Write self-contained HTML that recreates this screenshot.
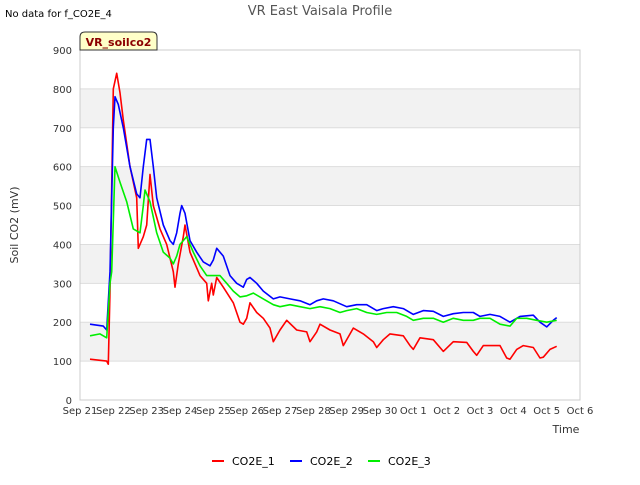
<!DOCTYPE html>
<html><head><meta charset="utf-8"><style>
body{margin:0;background:#fff;font-family:"Liberation Sans","DejaVu Sans",sans-serif}
svg text{font-family:"DejaVu Sans","Liberation Sans",sans-serif}
</style></head><body>
<svg id="c" width="640" height="480" xmlns="http://www.w3.org/2000/svg">
<text x="5" y="17" font-size="10" fill="#000">No data for f_CO2E_4</text>
<text x="320" y="15" font-size="13" fill="#555" text-anchor="middle">VR East Vaisala Profile</text>
<rect x="80" y="50" width="500" height="350" fill="#fff"/>
<g id="bands"></g><g id="grid"></g>
<rect x="80" y="50" width="500" height="350" fill="none" stroke="#ccc"/>
<g id="ticks"></g><g id="series"></g>
<path d="M80,50 V37 Q80,32 85,32 H152 Q157,32 157,37 V50 Z" fill="#ffffc8" stroke="#333"/>
<text x="118.5" y="46" font-size="11" font-weight="bold" fill="#8b0000" text-anchor="middle">VR_soilco2</text>
<text transform="translate(18,225) rotate(-90)" font-size="11" fill="#333" text-anchor="middle">Soil CO2 (mV)</text>
<text x="566" y="433" font-size="11" fill="#333" text-anchor="middle">Time</text>
<g id="legend"></g>
</svg>
<script>
const yTicks=[0,100,200,300,400,500,600,700,800,900];
const xLabels=["Sep 21","Sep 22","Sep 23","Sep 24","Sep 25","Sep 26","Sep 27","Sep 28","Sep 29","Sep 30","Oct 1","Oct 2","Oct 3","Oct 4","Oct 5","Oct 6"];
const seriesNames=["CO2E_1","CO2E_2","CO2E_3"];
const seriesColors=["#ff0000","#0000ff","#00ee00"];
const co2e1Days=[0.3,0.8,0.85,0.9,1.0,1.1,1.2,1.3,1.5,1.7,1.75,1.9,2.0,2.1,2.2,2.4,2.6,2.8,2.85,2.95,3.1,3.15,3.3,3.6,3.8,3.85,3.95,4.0,4.1,4.3,4.6,4.8,4.9,5.0,5.1,5.3,5.5,5.7,5.8,6.0,6.2,6.5,6.8,6.9,7.1,7.2,7.5,7.8,7.9,8.2,8.5,8.8,8.9,9.1,9.3,9.7,9.9,10.0,10.2,10.6,10.9,11.2,11.6,11.8,11.9,12.1,12.6,12.8,12.9,13.1,13.3,13.6,13.8,13.9,14.1,14.3];
const co2e1Vals=[105,100,92,280,800,840,790,720,600,520,390,420,450,580,500,440,400,330,290,350,420,450,380,320,300,255,300,270,315,290,250,200,195,210,250,225,210,185,150,180,205,180,175,150,175,195,180,170,140,185,170,150,135,155,170,165,140,130,160,155,125,150,148,125,115,140,140,108,105,130,140,135,108,110,130,138];
const co2e2Days=[0.3,0.7,0.8,0.9,1.0,1.05,1.15,1.3,1.5,1.7,1.8,1.9,2.0,2.1,2.2,2.3,2.5,2.7,2.8,2.9,3.0,3.05,3.15,3.3,3.5,3.7,3.9,4.0,4.1,4.3,4.5,4.7,4.9,5.0,5.1,5.3,5.5,5.8,6.0,6.3,6.6,6.9,7.1,7.3,7.6,8.0,8.3,8.6,8.9,9.1,9.4,9.7,10.0,10.3,10.6,10.9,11.2,11.5,11.8,12.0,12.3,12.6,12.9,13.2,13.6,13.8,14.0,14.2,14.3];
const co2e2Vals=[195,190,180,330,700,780,760,700,600,530,520,600,670,670,600,520,450,410,400,430,480,500,480,410,380,355,345,360,390,370,320,300,290,310,315,300,280,260,265,260,255,245,255,260,255,240,245,245,230,235,240,235,220,230,228,215,222,225,225,215,220,215,200,215,218,200,188,205,212];
const co2e3Days=[0.3,0.6,0.8,0.9,0.95,1.05,1.2,1.4,1.6,1.8,1.9,1.95,2.1,2.3,2.5,2.7,2.8,2.9,3.0,3.1,3.2,3.4,3.6,3.8,4.0,4.2,4.4,4.6,4.8,5.0,5.2,5.5,5.8,6.0,6.3,6.6,6.9,7.2,7.5,7.8,8.0,8.3,8.6,8.9,9.2,9.5,9.8,10.0,10.3,10.6,10.9,11.2,11.5,11.8,12.0,12.3,12.6,12.9,13.1,13.4,13.7,14.0,14.3];
const co2e3Vals=[165,170,160,300,330,600,560,510,440,430,500,540,510,430,380,365,350,370,400,410,420,380,345,320,320,320,300,280,265,268,275,260,245,240,245,240,235,240,235,225,230,235,225,220,225,225,215,205,210,210,200,210,205,205,210,210,195,190,210,210,205,200,205];
const X=d=>80+d*500/15, Y=v=>400-v*350/900;
const NS="http://www.w3.org/2000/svg";
function mk(p,t,a){const e=document.createElementNS(NS,t);for(const k in a)e.setAttribute(k,a[k]);document.getElementById(p).appendChild(e);return e;}
for(let i=1;i<yTicks.length;i+=2){const b=mk('bands','rect',{x:80,y:Y(yTicks[i+1]||900),width:500,height:Y(yTicks[i])-Y(yTicks[i+1]||900),fill:'#f2f2f2'});

}
yTicks.forEach(v=>{const l=mk('grid','line',{x1:80,x2:580,y1:Y(v),y2:Y(v),stroke:'#ddd'});


const t=mk('ticks','text',{x:72,y:Y(v)+4,'font-size':10,fill:'#333','text-anchor':'end'});t.textContent=v;

});
xLabels.forEach((s,i)=>{const t=mk('ticks','text',{x:X(i),y:414,'font-size':10,fill:'#333','text-anchor':'middle'});t.textContent=s;

});
const all=[[co2e1Days,co2e1Vals],[co2e2Days,co2e2Vals],[co2e3Days,co2e3Vals]];
all.forEach(([d,v],i)=>{const p=mk('series','polyline',{points:d.map((x,j)=>X(x).toFixed(1)+','+Y(v[j]).toFixed(1)).join(' '),fill:'none',stroke:seriesColors[i],'stroke-width':1.6,'stroke-linejoin':'round'});


const lx=212+i*78;
const ll=mk('legend','line',{x1:lx,x2:lx+12,y1:461,y2:461,stroke:seriesColors[i],'stroke-width':2});


const lt=mk('legend','text',{x:lx+20,y:465,'font-size':11,fill:'#000'});lt.textContent=seriesNames[i];

});
</script>
</body></html>
